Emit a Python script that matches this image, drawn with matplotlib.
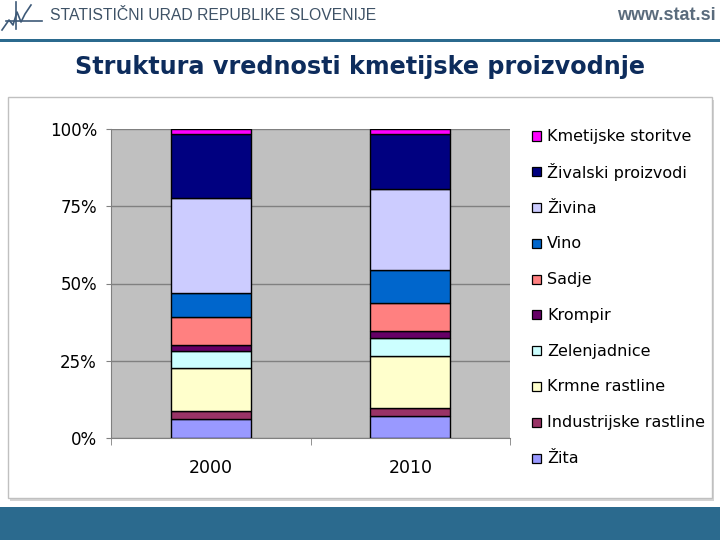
import matplotlib
matplotlib.use("Agg")
import matplotlib.pyplot as plt
from matplotlib.patches import Rectangle
from matplotlib.lines import Line2D

# ---- data ----
years = ["2000", "2010"]
categories = ["Žita", "Industrijske rastline", "Krmne rastline", "Zelenjadnice",
              "Krompir", "Sadje", "Vino", "Živina", "Živalski proizvodi",
              "Kmetijske storitve"]
colors = ["#9999FF", "#993366", "#FFFFCC", "#CCFFFF", "#660066",
          "#FF8080", "#0066CC", "#CCCCFF", "#000080", "#FF00FF"]
share_2000 = [6.25, 2.4, 14.0, 5.4, 2.0, 9.1, 7.8, 30.8, 20.65, 1.6]
share_2010 = [7.0, 2.7, 16.7, 5.9, 2.2, 9.1, 10.8, 26.1, 17.9, 1.6]
y_ticks = [0, 25, 50, 75, 100]
y_labels = ["0%", "25%", "50%", "75%", "100%"]

W, H = 720, 540
fig = plt.figure(figsize=(7.2, 5.4), dpi=100)
fig.patch.set_facecolor("white")

def fx(x):
    return x / W

def fy(y):
    return 1 - y / H

def rect(x0, y0, x1, y1, zorder=-5, **kw):
    r = Rectangle((fx(x0), fy(y1)), fx(x1) - fx(x0), fy(y0) - fy(y1),
                  transform=fig.transFigure, zorder=zorder, **kw)
    fig.patches.append(r)
    return r

# header
blue = "#2B6A8E"
rect(0, 38.5, 720, 41.5, facecolor=blue, edgecolor="none")
rect(0, 507, 720, 540, facecolor=blue, edgecolor="none")
logo_c = "#3E5A78"
for xs, ys in [([2, 9, 13, 17, 21, 25, 31], [30, 20, 25, 12, 22, 14, 5]),
               ([16, 16], [2, 29]),
               ([6, 42], [21, 21])]:
    fig.add_artist(Line2D([fx(v) for v in xs], [fy(v) for v in ys], color=logo_c,
                          lw=1.2, transform=fig.transFigure))
fig.text(fx(50), fy(15), "STATISTIČNI URAD REPUBLIKE SLOVENIJE", fontsize=11.3,
         family="Liberation Sans", color="#3E5266", va="center", ha="left")
fig.text(fx(716), fy(15), "www.stat.si", fontsize=13, family="Liberation Sans",
         weight="bold", color="#5A6B7C", va="center", ha="right")
fig.text(fx(360), fy(67), "Struktura vrednosti kmetijske proizvodnje", fontsize=17.2,
         family="DejaVu Sans", weight="bold", color="#0D2C5C", va="center", ha="center")

# chart frame with shadow
rect(10, 100, 714, 501, facecolor="#D4D4D4", edgecolor="none", zorder=-4)
rect(7.5, 97, 711.5, 498, facecolor="white", edgecolor="#C0C0C0", lw=1, zorder=-3)

ax = fig.add_axes([fx(111), fy(438), fx(510) - fx(111), fy(129) - fy(438)])
ax.set_zorder(2)
ax.set_facecolor("#C0C0C0")
x = [0, 1]
bottoms = [0.0, 0.0]
for i, cat in enumerate(categories):
    vals = [share_2000[i], share_2010[i]]
    ax.bar(x, vals, width=0.4, bottom=bottoms, color=colors[i], edgecolor="black",
           linewidth=1.0, zorder=3)
    bottoms = [b + v for b, v in zip(bottoms, vals)]

ax.set_xlim(-0.5, 1.5)
ax.set_ylim(0, 100)
ax.set_yticks(y_ticks)
ax.set_yticklabels(y_labels, fontsize=12)
ax.yaxis.grid(True, color="#808080", lw=1, zorder=1)
ax.set_xticks(x)
ax.set_xticklabels(years, fontsize=12.5)
ax.set_xticks([-0.5, 0.5, 1.5], minor=True)
ax.tick_params(axis="x", which="major", length=0, pad=15)
ax.tick_params(axis="x", which="minor", length=5, color="#808080", direction="out")
ax.tick_params(axis="y", length=3.6, color="#808080", direction="out", pad=6.5)
for s in ["top", "right"]:
    ax.spines[s].set_visible(False)
for s in ["left", "bottom"]:
    ax.spines[s].set_color("#808080")

# legend (top entry = last category)
step = (458 - 136) / 9
for k, i in enumerate(range(len(categories) - 1, -1, -1)):
    yc = 136 + k * step
    rect(532, yc - 4.5, 541, yc + 4.5, facecolor=colors[i], edgecolor="black",
         lw=0.9, zorder=5)
    fig.text(fx(547), fy(yc + 0.5), categories[i], fontsize=11.5, family="DejaVu Sans",
             va="center", ha="left", zorder=5)

fig.savefig("out.png", dpi=100)
